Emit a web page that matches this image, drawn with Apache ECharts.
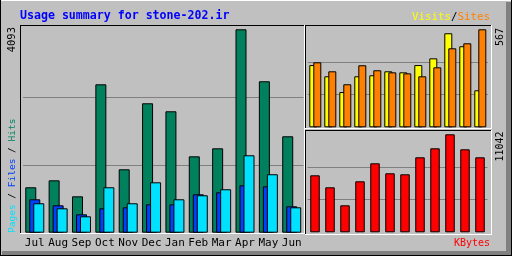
<!DOCTYPE html>
<html>
<head>
<meta charset="utf-8">
<script src="https://cdn.jsdelivr.net/npm/echarts@6/dist/echarts.min.js"></script>
<style>
html, body { margin: 0; padding: 0; background: #c0c0c0; }
#chart { width: 512px; height: 256px; }
</style>
</head>
<body>
<div id="chart"></div>
<script>
var months = ['Jul', 'Aug', 'Sep', 'Oct', 'Nov', 'Dec', 'Jan', 'Feb', 'Mar', 'Apr', 'May', 'Jun'];
var hits = [914, 1054, 732, 2986, 1276, 2604, 2443, 1537, 1698, 4093, 3047, 1940];
var files = [672, 551, 370, 491, 511, 571, 571, 773, 813, 954, 934, 531];
var pages = [592, 491, 330, 914, 592, 1014, 672, 753, 874, 1558, 1176, 511];
var visits = [360, 295, 204, 295, 301, 324, 318, 360, 399, 544, 469, 214];
var sites = [376, 324, 249, 359, 330, 318, 312, 295, 347, 457, 486, 567];
var kbytes = [6422, 5070, 3042, 5746, 7774, 6648, 6535, 8450, 9464, 11042, 9352, 8450];
var maxHits = 4093, maxVisits = 567, maxKb = 11042;

var mono = '"DejaVu Sans Mono", monospace';
var myChart = echarts.init(document.getElementById('chart'), null, { renderer: 'canvas' });

// ось y: линии на 1/3 и 2/3, без верхней
function yax(idx, max) {
    return {
        type: 'value', gridIndex: idx, min: 0, max: max, interval: max / 3,
        axisLabel: { show: false }, axisLine: { show: false }, axisTick: { show: false },
        splitLine: { show: true, showMinLine: false, showMaxLine: false, lineStyle: { color: '#808080', width: 1 } }
    };
}
function xax(idx, lbl) {
    return {
        type: 'category', gridIndex: idx, data: months,
        axisLine: { show: false }, axisTick: { show: false },
        axisLabel: { show: lbl, interval: 0, color: '#000', fontFamily: mono, fontSize: 11, margin: 5 }
    };
}
function bar(name, data, color, idx, w, gap) {
    return {
        name: name, type: 'bar', xAxisIndex: idx, yAxisIndex: idx, data: data,
        barWidth: w, barGap: gap, silent: true, animation: false,
        itemStyle: { color: color, borderColor: '#000', borderWidth: 1 }
    };
}
function hline(x1, y, x2, c) {
    return { type: 'line', shape: { x1: x1, y1: y, x2: x2, y2: y }, style: { stroke: c, lineWidth: 1 }, silent: true };
}
function vline(x, y1, y2, c) {
    return { type: 'line', shape: { x1: x, y1: y1, x2: x, y2: y2 }, style: { stroke: c, lineWidth: 1 }, silent: true };
}
function sh(c, size, dx, dy) {
    return {
        fill: c, font: size + 'px ' + mono,
        textShadowColor: '#808080', textShadowOffsetX: dx, textShadowOffsetY: dy, textShadowBlur: 0
    };
}
function vtext(x, y, text, align, size, rich) {
    return {
        type: 'text', x: x, y: y, rotation: Math.PI / 2, silent: true,
        style: { text: text, fill: '#000', font: size + 'px ' + mono, align: align, verticalAlign: 'middle', rich: rich }
    };
}

var frame = [
    { type: 'rect', shape: { x: 0, y: 0, width: 512, height: 256 }, style: { fill: '#c0c0c0' }, silent: true, z: -10 },
    { type: 'rect', shape: { x: 506, y: 2, width: 5, height: 253 }, style: { fill: '#808080' }, silent: true },
    { type: 'rect', shape: { x: 2, y: 251, width: 509, height: 4 }, style: { fill: '#808080' }, silent: true },
    hline(0, 0.5, 512, '#ffffff'),
    vline(0.5, 0, 256, '#000'),
    vline(511.5, 0, 256, '#000'),
    hline(0, 255.5, 512, '#000'),
    // main panel
    hline(20, 25.5, 305, '#000'), vline(20.5, 25, 234, '#000'),
    hline(20, 233.5, 305, '#fff'), vline(304.5, 25, 234, '#fff'),
    // visits panel
    hline(305, 25.5, 492, '#000'), vline(305.5, 25, 129, '#000'),
    hline(305, 128.5, 492, '#fff'), vline(491.5, 25, 129, '#fff'),
    // kbytes panel
    hline(305, 130.5, 492, '#000'), vline(305.5, 130, 235, '#000'),
    hline(305, 234.5, 492, '#fff'), vline(491.5, 130, 235, '#fff'),
    {
        type: 'text', x: 20, y: 16, silent: true,
        style: { text: 'Usage summary for stone-202.ir', fill: '#0000ff', font: 'bold 11.6px ' + mono, align: 'left', verticalAlign: 'middle' }
    },
    {
        type: 'text', x: 490, y: 17, silent: true,
        style: {
            text: '{v|Visits}{s|/}{t|Sites}', align: 'right', verticalAlign: 'middle',
            rich: { v: sh('#ffff00', 10.8, 1, 1), s: sh('#000', 10.8, 1, 1), t: sh('#ff8000', 10.8, 1, 1) }
        }
    },
    {
        type: 'text', x: 490, y: 243, silent: true,
        style: { text: '{k|KBytes}', align: 'right', verticalAlign: 'middle', rich: { k: sh('#ff0000', 10, 1, 1) } }
    },
    vtext(12.5, 27, String(maxHits), 'right', 10.5),
    vtext(500.5, 28, String(maxVisits), 'right', 10),
    vtext(500.5, 131.5, String(maxKb), 'right', 10),
    vtext(12.5, 233, '{p|Pages}{s| / }{f|Files}{s| / }{h|Hits}', 'left', 9.5,
        { p: sh('#00e0ff', 9.5, 1, -1), s: sh('#000', 9.5, 1, -1), f: sh('#0040ff', 9.5, 1, -1), h: sh('#00805c', 9.5, 1, -1) })
];

var option = {
    backgroundColor: '#c0c0c0',
    animation: false,
    grid: [
        { left: 23.1, top: 29.3, width: 280.3, height: 203.4 },
        { left: 307.8, top: 29.3, width: 180, height: 98 },
        { left: 307.5, top: 134.3, width: 180, height: 98 }
    ],
    xAxis: [xax(0, true), xax(1, false), xax(2, false)],
    yAxis: [yax(0, maxHits), yax(1, maxVisits), yax(2, maxKb)],
    graphic: frame,
    series: [
        bar('Hits', hits, '#00805c', 0, 11, '-63.64%'),
        bar('Files', files, '#0040ff', 0, 11, '-63.64%'),
        bar('Pages', pages, '#00e0ff', 0, 11, '-63.64%'),
        bar('Visits', visits, '#ffff00', 1, 8, '-50%'),
        bar('Sites', sites, '#ff8000', 1, 8, '-50%'),
        bar('KBytes', kbytes, '#ff0000', 2, 9.5, '0%')
    ]
};
myChart.setOption(option);
</script>
</body>
</html>
